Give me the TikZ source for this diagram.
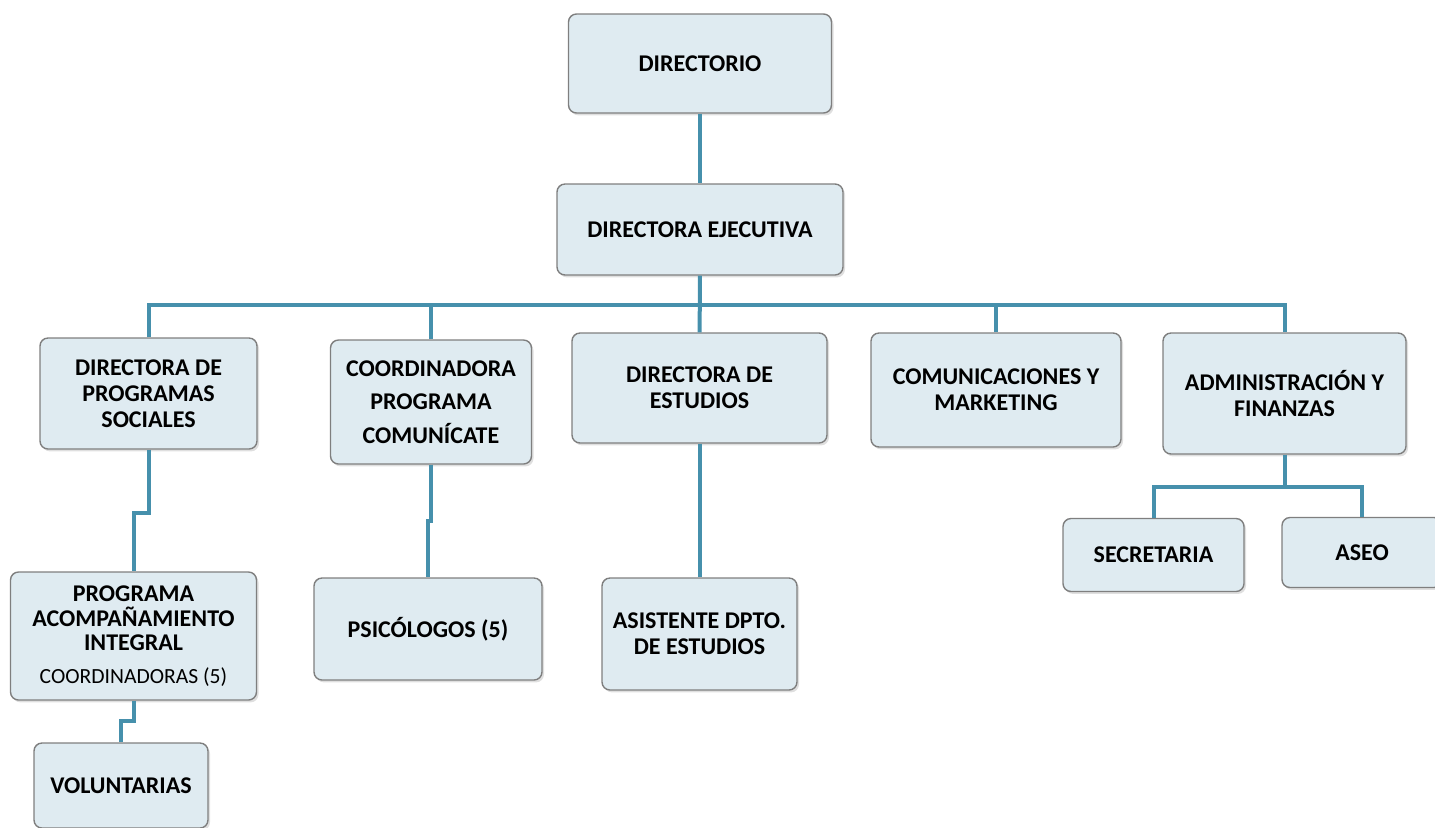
\documentclass[tikz,border=0pt]{standalone}
\usepackage{fontspec}
\setmainfont{Carlito}
\usetikzlibrary{shadows}
\definecolor{boxfill}{HTML}{DFEBF1}
\definecolor{boxline}{HTML}{7F7F7F}
\definecolor{linkblue}{HTML}{4690AC}
\begin{document}
\begin{tikzpicture}[x=0.5pt, y=-0.5pt,
    unit/.style={rectangle, rounded corners=4pt, draw=boxline, line width=0.7pt, fill=boxfill,
      drop shadow={shadow xshift=1pt, shadow yshift=-1.2pt, opacity=0.25},
      align=center, inner sep=2pt, font=\bfseries\fontsize{12}{13}\selectfont},
    link/.style={draw=linkblue, line width=2pt}]
      \useasboundingbox (0,0) rectangle (1435,827);
      \clip (0,0) rectangle (1435,827);

      \node[unit, minimum width=131.5pt, minimum height=49.5pt] (dir) at (700,63.5) {DIRECTORIO};
      \node[unit, minimum width=143pt, minimum height=45.5pt] (dej) at (700,229.5) {DIRECTORA EJECUTIVA};
      \node[unit, minimum width=108.5pt, minimum height=55.5pt] (dps) at (148.5,393.5) {DIRECTORA DE\\PROGRAMAS\\SOCIALES};
      \node[unit, minimum width=100.5pt, minimum height=62pt, font=\bfseries\fontsize{12}{16.75}\selectfont] (cpc) at (431,402) {COORDINADORA\\PROGRAMA\\COMUNÍCATE};
      \node[unit, minimum width=127.5pt, minimum height=55pt] (des) at (699.5,388) {DIRECTORA DE\\ESTUDIOS};
      \node[unit, minimum width=125pt, minimum height=57pt] (com) at (996,390) {COMUNICACIONES Y\\MARKETING};
      \node[unit, minimum width=121.5pt, minimum height=60.5pt] (adm) at (1284.5,393.5) {ADMINISTRACIÓN Y\\FINANZAS};
      \node[unit, minimum width=123pt, minimum height=64pt, font=\bfseries\fontsize{12}{12.25}\selectfont] (pai) at (133.5,636) {PROGRAMA\\ACOMPAÑAMIENTO\\INTEGRAL\\[4pt]\mdseries\fontsize{10.8}{12}\selectfont COORDINADORAS (5)};
      \node[unit, minimum width=114pt, minimum height=51pt] (psi) at (428,629) {PSICÓLOGOS (5)};
      \node[unit, minimum width=97.5pt, minimum height=56pt] (ade) at (699.5,634) {ASISTENTE DPTO.\\DE ESTUDIOS};
      \node[unit, minimum width=90.5pt, minimum height=36.5pt] (sec) at (1153.5,555) {SECRETARIA};
      \node[unit, minimum width=80pt, minimum height=35pt] (ase) at (1362,552.5) {ASEO};
      \node[unit, minimum width=87pt, minimum height=42.5pt] (vol) at (121,785.5) {VOLUNTARIAS};

      \coordinate (bus) at (700,305);

      \draw[link] (dir) -- (dej);
      \draw[link] (dej) -- (des);
      \draw[link] (dps.north) |- (bus) -| (adm.north);
      \draw[link] (cpc.north) -- (cpc.north |- bus);
      \draw[link] (com.north) -- (com.north |- bus);
      \draw[link] (dps.south) -- ++(0,63) -| (pai.north);
      \draw[link] (pai.south) -- ++(0,20) -| (vol.north);
      \draw[link] (cpc.south) -- ++(0,56) -| (psi.north);
      \draw[link] (des) -- (ade);
      \draw[link] (adm.south) -- ++(0,32) coordinate (fork);
      \draw[link] (sec.north) |- (fork) -| (ase.north);
    \end{tikzpicture}
\end{document}
